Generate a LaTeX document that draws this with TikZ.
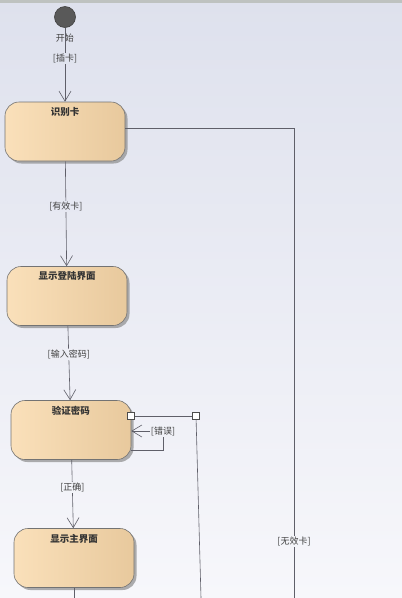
\documentclass[tikz,border=0pt]{standalone}
\usepackage{fontspec}
\setmainfont{Noto Sans CJK SC}
\usetikzlibrary{arrows.meta,shadows}
\definecolor{bgtop}{RGB}{222,225,237}
\definecolor{bgbot}{RGB}{247,247,251}
\definecolor{band}{RGB}{190,194,192}
\definecolor{boxl}{RGB}{250,224,186}
\definecolor{boxr}{RGB}{232,201,157}
\definecolor{linegray}{RGB}{95,95,105}

\begin{document}
\begin{tikzpicture}[x=1pt,y=-1pt,>={Straight Barb[length=10pt,width=12pt]},semithick,
    activity/.style={draw=black!55,rounded corners=14pt,minimum width=120pt,minimum height=59pt,
        left color=boxl,right color=boxr,
        drop shadow={shadow xshift=2.5pt,shadow yshift=-2.5pt,fill=black!45,opacity=.7}},
    title/.style={anchor=north,yshift=-2pt,font=\bfseries\fontsize{9.5}{11}\selectfont,text=black!80},
    guard/.style={inner sep=1pt,font=\fontsize{9}{10}\selectfont,text=black!75},
    handle/.style={draw=black!70,fill=white,thin,minimum size=7pt,inner sep=0pt},
    conn/.style={draw=linegray}]

    % background
    \fill[top color=bgtop,bottom color=bgbot] (0,0) rectangle (402,598);
    \fill[band] (0,0) rectangle (402,3);
    \useasboundingbox (0,0) rectangle (402,598);

    \node[circle,fill=black!65,draw=black!75,minimum size=21pt,inner sep=0pt,
        label={[guard,label distance=5pt]below:开始}] (start) at (65,17) {};
    \node[activity,label={[title]north:识别卡}] (card) at (65,131.5) {};
    \node[activity,label={[title]north:显示登陆界面}] (login) at (67,296) {};
    \node[activity,label={[title]north:验证密码}] (check) at (71,430) {};
    \node[activity,label={[title]north:显示主界面}] (home) at (74,558) {};

    \coordinate (cardbend) at (294,128);
    \coordinate (cardend) at (294,598);
    \coordinate (loop) at (163,450);
    \coordinate (homeend) at (74,598);
    \node[handle] (h1) at (131,416) {};
    \node[handle] (h2) at (196,416) {};
    \coordinate (h2end) at (201,598);

    \path[->,conn] (start) edge node[guard,fill=bgbot!10!bgtop,pos=.42] {[插卡]} (card)
              (card) edge node[guard,fill=bgbot!34!bgtop,pos=.43] {[有效卡]} (login)
              (login) edge node[guard,fill=bgbot!59!bgtop,pos=.39] {[输入密码]} (check)
              (check) edge node[guard,fill=bgbot!81!bgtop,pos=.4] {[正确]} (home);

    \draw[->,conn] ([yshift=-20pt]check.east) -- (loop) |- node[guard,fill=bgbot!72!bgtop] {[错误]}
        ([yshift=-1pt]check.east);
    \draw[conn] ([yshift=3.5pt]card.east) -- (cardbend) -- node[guard,fill=bgbot!90!bgtop,pos=.88] {[无效卡]} (cardend);
    \draw[conn] (h1.center) -- (h2.center);
    \draw[conn] (h2) -- (h2end);
    \node[handle] at (h1) {};
    \node[handle] at (h2) {};
    \draw[conn] (home) -- (homeend);
\end{tikzpicture}
\end{document}
